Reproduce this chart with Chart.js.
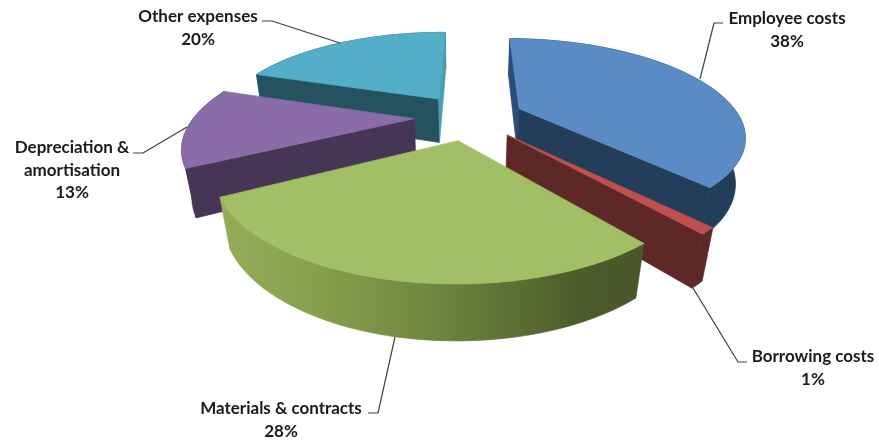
<!DOCTYPE html>
<html>
<head>
<meta charset="utf-8">
<title>Expenses</title>
<script src="https://cdn.jsdelivr.net/npm/chart.js@4"></script>
<style>
  html, body { margin: 0; padding: 0; background: #fff; }
  canvas { display: block; }
</style>
</head>
<body>
<canvas id="expenseChart" width="879" height="440"></canvas>
<script>
const categories = ['Employee costs', 'Borrowing costs', 'Materials & contracts', 'Depreciation & amortisation', 'Other expenses'];
const shares = [38, 1, 28, 13, 20];
const topColors = ['#5a8bc4', '#c0504d', '#a2bf66', '#8a6ca8', '#52aec9'];
const sideColors = ['#243d5a', '#5d2826', '#6e8440', '#463555', '#265260'];
const innerColors = ['#2b4e78', '#5d2826', '#6e8440', '#463555', '#4a9db5'];

// camera used to tilt the pie
const FOCAL = 739.4, VIEW_X = 463.8, VIEW_Y = 207, STRETCH_Y = 1.017;
const SIN_E = Math.sin(30.85 * Math.PI / 180), COS_E = Math.cos(30.85 * Math.PI / 180);
const CAM_HEIGHT = 1000, PIE_RADIUS = 726, PIE_DEPTH = 164.4;
const PIE_X = 17.9, PIE_Y = 2245.5;

// text boxes and leader lines
const labelBoxes = [
  { x: 787, y: 19, lines: ['Employee costs', '38%'], leader: [[700, 79], [714, 23], [723, 23]] },
  { x: 813, y: 357, lines: ['Borrowing costs', '1%'], leader: [[693, 288], [738, 362], [747, 362]] },
  { x: 281, y: 409, lines: ['Materials & contracts', '28%'], leader: [[395, 337], [378, 413], [368, 413]] },
  { x: 72, y: 148, lines: ['Depreciation &', 'amortisation', '13%'], leader: [[187, 127], [143, 153], [133, 153]] },
  { x: 198, y: 17, lines: ['Other expenses', '20%'], leader: [[340, 43], [272, 21], [262, 21]] }
];

function project(x, y, z) {
  const wz = -CAM_HEIGHT - z;
  const yv = y * SIN_E + wz * COS_E;
  const zv = y * COS_E - wz * SIN_E;
  return [VIEW_X + FOCAL * x / zv, VIEW_Y - FOCAL * STRETCH_Y * yv / zv];
}

// fill plus a hairline of the same paint, so neighbouring faces leave no seam
function paintFace(ctx, points, paint) {
  ctx.beginPath();
  points.forEach((p, i) => i ? ctx.lineTo(p[0], p[1]) : ctx.moveTo(p[0], p[1]));
  ctx.closePath();
  ctx.fillStyle = paint;
  ctx.strokeStyle = paint;
  ctx.lineWidth = 0.7;
  ctx.lineJoin = 'round';
  ctx.fill();
  ctx.stroke();
}

function frontGradient(ctx) {
  const g = ctx.createLinearGradient(222, 0, 640, 0);
  g.addColorStop(0, '#93ad59');
  g.addColorStop(0.2, '#88a24f');
  g.addColorStop(0.45, '#748c42');
  g.addColorStop(0.7, '#5d6f33');
  g.addColorStop(0.85, '#4c5b2b');
  g.addColorStop(1, '#4a5829');
  return g;
}

function drawSlice(ctx, s) {
  const arcTop = [], arcBottom = [];
  const steps = 60;
  for (let i = 0; i <= steps; i++) {
    const a = s.start + (s.end - s.start) * i / steps;
    const px = s.ax + PIE_RADIUS * Math.sin(a);
    const py = s.ay + PIE_RADIUS * Math.cos(a);
    arcTop.push(project(px, py, 0));
    arcBottom.push(project(px, py, PIE_DEPTH));
  }
  const apexTop = project(s.ax, s.ay, 0);
  const apexBottom = project(s.ax, s.ay, PIE_DEPTH);

  // rim first, the cut faces can sit in front of it
  paintFace(ctx, arcTop.concat(arcBottom.slice().reverse()), s.rimFill);

  // cut faces, only the ones turned toward the camera
  const startVisible = Math.cos(s.start) * s.ax - Math.sin(s.start) * s.ay > 0;
  const endVisible = -Math.cos(s.end) * s.ax + Math.sin(s.end) * s.ay > 0;
  if (startVisible) {
    paintFace(ctx, [apexTop, arcTop[0], arcBottom[0], apexBottom], s.startFill);
  }
  if (endVisible) {
    paintFace(ctx, [apexTop, arcTop[steps], arcBottom[steps], apexBottom], s.endFill);
  }

  paintFace(ctx, [apexTop].concat(arcTop), s.top);
}

const tiltedPie = {
  id: 'tiltedPie',
  beforeDatasetsDraw(chart) {
    const ctx = chart.ctx;
    const arcs = chart.getDatasetMeta(0).data;
    const dataset = chart.data.datasets[0];
    const slices = arcs.map((arc, i) => {
      const start = arc.startAngle + Math.PI / 2;
      const end = arc.endAngle + Math.PI / 2;
      const mid = (start + end) / 2;
      const push = PIE_RADIUS * arc.options.offset / arc.outerRadius;
      const ax = PIE_X + push * Math.sin(mid);
      const ay = PIE_Y + push * Math.cos(mid);
      return {
        start, end, ax, ay,
        top: arc.options.backgroundColor,
        rimFill: i === 2 ? frontGradient(ctx) : dataset.sideColor[i],
        startFill: i === 0 ? dataset.innerColor[i] : dataset.sideColor[i],
        endFill: i === 4 ? dataset.innerColor[i] : dataset.sideColor[i],
        depthKey: ay + 0.6 * PIE_RADIUS * Math.cos(mid)
      };
    });
    slices.sort((a, b) => b.depthKey - a.depthKey).forEach(s => drawSlice(ctx, s));
    return false;
  },
  afterDraw(chart) {
    const ctx = chart.ctx;
    ctx.save();
    ctx.strokeStyle = '#3f3f3f';
    ctx.lineWidth = 1.2;
    labelBoxes.forEach(box => {
      ctx.beginPath();
      box.leader.forEach((p, i) => i ? ctx.lineTo(p[0], p[1]) : ctx.moveTo(p[0], p[1]));
      ctx.stroke();
      ctx.fillStyle = '#1a1a1a';
      ctx.font = 'bold 17px Lato';
      ctx.textAlign = 'center';
      ctx.textBaseline = 'middle';
      box.lines.forEach((line, i) => ctx.fillText(line, box.x, box.y + i * 22.5));
    });
    ctx.restore();
  }
};

new Chart(document.getElementById('expenseChart').getContext('2d'), {
  type: 'pie',
  data: {
    labels: categories,
    datasets: [{
      data: shares,
      backgroundColor: topColors,
      sideColor: sideColors,
      innerColor: innerColors,
      borderWidth: 0,
      offset: 48.8
    }]
  },
  options: {
    responsive: false,
    animation: false,
    rotation: 0.57,
    layout: { padding: 0 },
    plugins: { legend: { display: false }, tooltip: { enabled: false } }
  },
  plugins: [tiltedPie]
});
</script>
</body>
</html>
